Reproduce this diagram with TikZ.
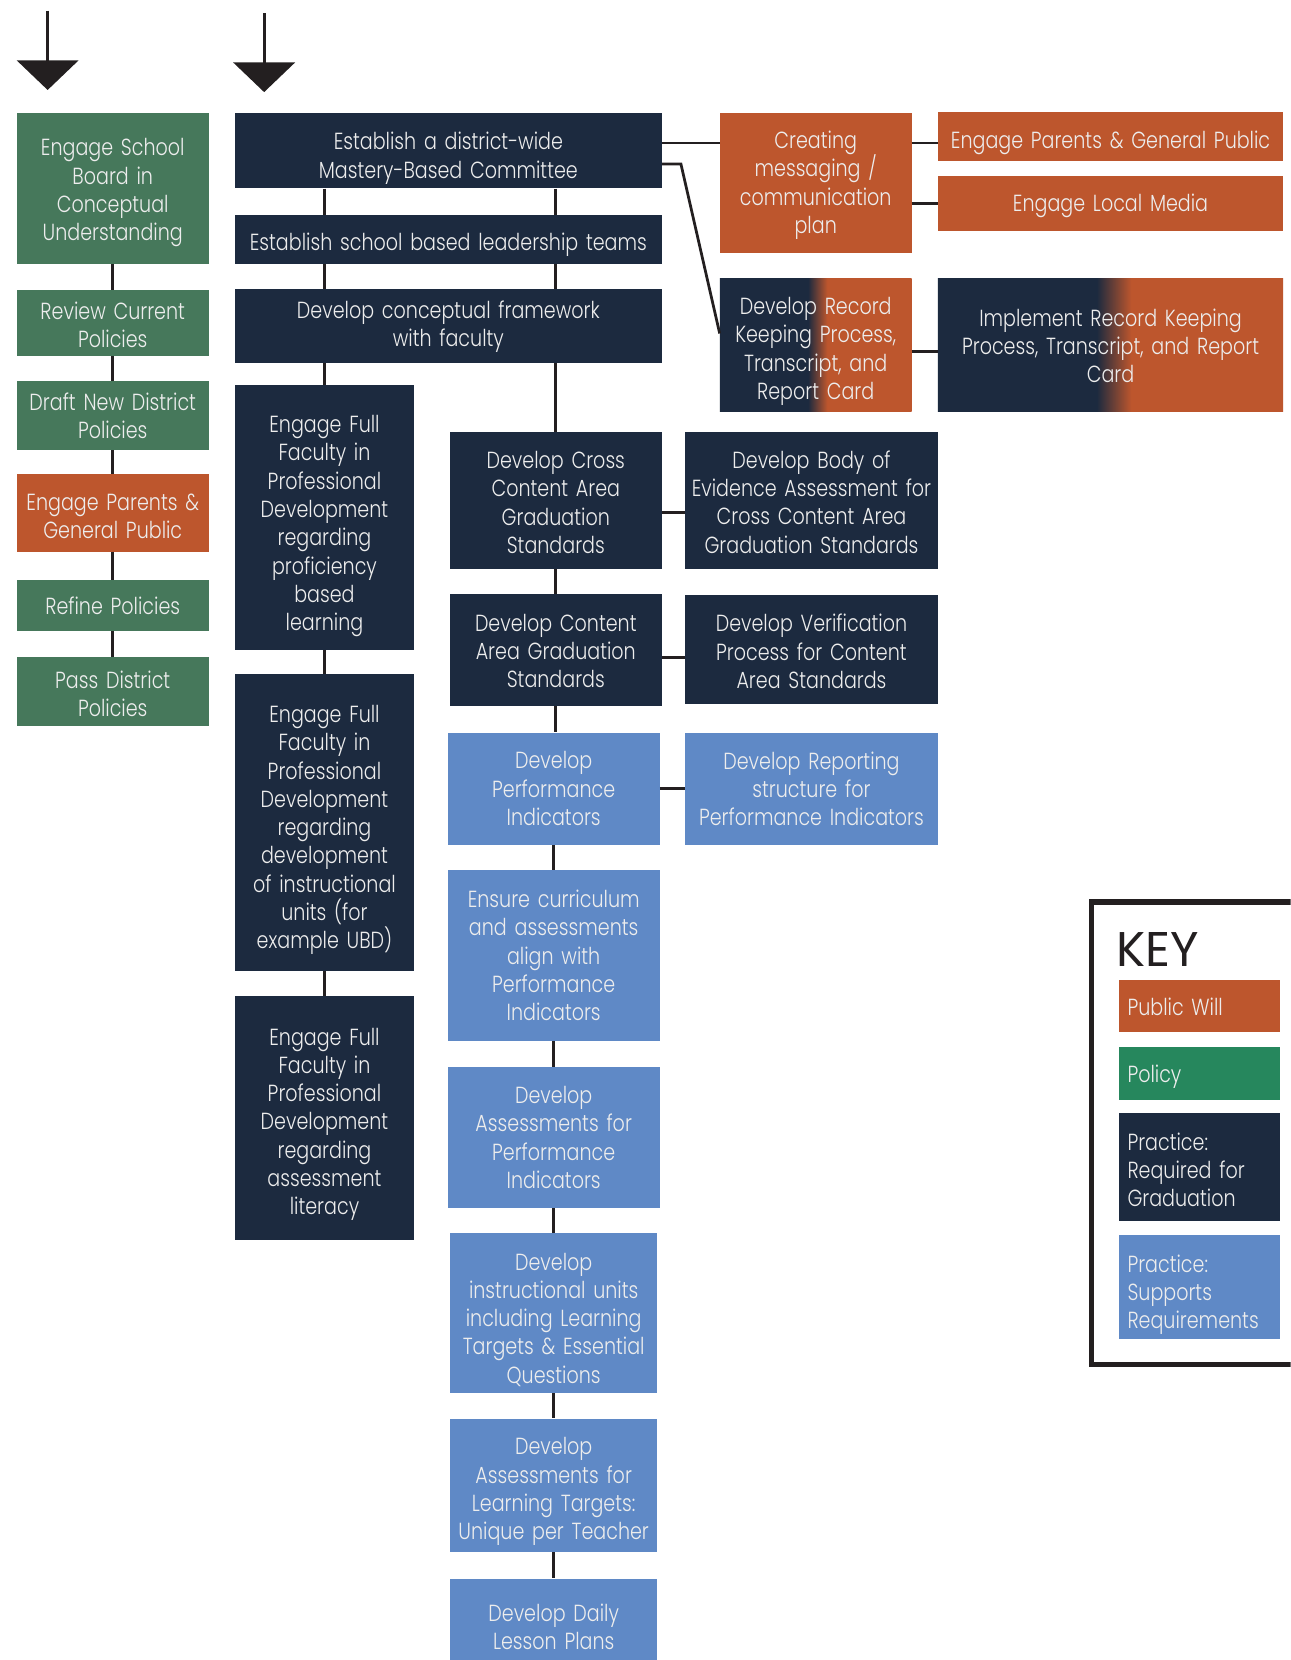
\documentclass[tikz,border=0pt]{standalone}
\usepackage{fontspec}
\setmainfont{Poppins}[UprightFont=* Light, FakeStretch=0.82]
\newfontfamily\keyfont{Poppins}
\usetikzlibrary{arrows.meta,calc}

\definecolor{navy}{HTML}{1C2A3F}
\definecolor{rust}{HTML}{BD562D}
\definecolor{sky}{HTML}{5F89C6}
\definecolor{sage}{HTML}{46785B}
\definecolor{keygreen}{HTML}{26875D}
\definecolor{ink}{HTML}{231F20}
\definecolor{paper}{HTML}{EDEDED}

% navy on the left, rust on the right, with a short blend between
\pgfdeclarehorizontalshading{navyrust}{100bp}{color(0bp)=(navy); color(48bp)=(navy); color(53bp)=(rust); color(100bp)=(rust)}

\begin{document}
\begin{tikzpicture}[x=1pt,y=-1pt,
  box/.style={rectangle, inner sep=0pt, text=paper, align=center,
    font=\fontsize{22}{26.7}\selectfont},
  sz/.style 2 args={minimum width=#1pt, minimum height=#2pt, text width=#1pt},
  % lowers the text block inside its box by #1 pt
  drop/.style={execute at begin node={\rule{0pt}{\dimexpr\fontcharht\font`l+#1pt+#1pt\relax}}},
  policy/.style={box, fill=sage},
  publicwill/.style={box, fill=rust},
  required/.style={box, fill=navy},
  supports/.style={box, fill=sky},
  mixed/.style={box, shading=navyrust},
  keyentry/.style={rectangle, inner xsep=8pt, inner ysep=0pt, text=paper,
    align=left, text width=136pt, font=\fontsize{22}{26.7}\selectfont},
  conn/.style={draw=ink, line width=2.6pt},
  startarrow/.style={draw=ink, line width=2.6pt,
    -{Triangle[length=28pt,width=58pt]}},
]
\clip (0,0) rectangle (1219,1568);
\fill[white] (0,0) rectangle (1219,1568);

% ---- policy track ----
\node (L1) [policy, drop=4, sz={181}{142}] at (106.5,178)   {Engage School\\Board in\\Conceptual\\Understanding};
\node (L2) [policy, drop=2, sz={181}{62}]  at (106.5,305)   {Review Current\\Policies};
\node (L3) [policy, sz={181}{65}]  at (106.5,392.5) {Draft New District\\Policies};
\node (L4) [publicwill, drop=3, sz={181}{73}] at (106.5,484.5) {Engage Parents \&\\General Public};
\node (L5) [policy, sz={181}{48}]  at (106.5,572)   {Refine Policies};
\node (L6) [policy, drop=2, sz={181}{65}]  at (106.5,653.5) {Pass District\\Policies};

% ---- practice track, wide boxes ----
\node (A) [required, drop=7, sz={403}{71}] at (423.5,142.5) {Establish a district-wide\\Mastery-Based Committee};
\node (B) [required, drop=5, sz={403}{46}] at (423.5,226)   {Establish school based leadership teams};
\node (C) [required, drop=1, sz={403}{70}] at (423.5,308)   {Develop conceptual framework\\with faculty};

% ---- professional development column ----
\node (D) [required, drop=8, sz={169}{250}] at (306.5,489)  {Engage Full\\Faculty in\\Professional\\Development\\regarding\\proficiency\\based\\learning};
\node (E) [required, drop=7, sz={169}{280}] at (306.5,777)  {Engage Full\\Faculty in\\Professional\\Development\\regarding\\development\\of instructional\\units (for\\example UBD)};
\node (F) [required, drop=6, sz={169}{230}] at (306.5,1056) {Engage Full\\Faculty in\\Professional\\Development\\regarding\\assessment\\literacy};

% ---- standards column ----
\node (G) [required, drop=2, sz={200}{129}] at (525,472.5) {Develop Cross\\Content Area\\Graduation\\Standards};
\node (H) [required, drop=1, sz={200}{106}] at (525,614)   {Develop Content\\Area Graduation\\Standards};
\node (I) [supports, sz={200}{106}] at (523,745)   {Develop\\Performance\\Indicators};
\node (J) [supports, sz={200}{161}] at (523,902.5) {Ensure curriculum\\and assessments\\align with\\Performance\\Indicators};
\node (K) [supports, sz={200}{133}] at (523,1074.5) {Develop\\Assessments for\\Performance\\Indicators};
\node (Lu) [supports, drop=6, sz={196}{151}] at (523,1240.5) {Develop\\instructional units\\including Learning\\Targets \& Essential\\Questions};
\node (M) [supports, drop=6, sz={196}{126}] at (523,1403)  {Develop\\Assessments for\\Learning Targets:\\Unique per Teacher};
\node (N) [supports, sz={196}{92}]  at (523,1537)  {Develop Daily\\Lesson Plans};

% ---- companion column ----
\node (O) [required, drop=2, sz={239}{129}] at (766.5,472.5) {Develop Body of\\Evidence Assessment for\\Cross Content Area\\Graduation Standards};
\node (P) [required, drop=2, sz={239}{103}] at (766.5,613.5) {Develop Verification\\Process for Content\\Area Standards};
\node (Q) [supports, sz={239}{106}] at (766.5,745)   {Develop Reporting\\structure for\\Performance Indicators};

% ---- communication and record keeping ----
\node (R) [publicwill, drop=2, sz={181}{132}] at (770.5,173) {Creating\\messaging /\\communication\\plan};
\node (S) [publicwill, drop=6, sz={326}{46}]  at (1049,129)  {Engage Parents \& General Public};
\node (T) [publicwill, drop=3, sz={326}{52}]  at (1049,192)  {Engage Local Media};
\node (U) [mixed, drop=6, sz={181}{126}] at (770.5,326) {Develop Record\\Keeping Process,\\Transcript, and\\Report Card};
\node (V) [mixed, drop=1, sz={326}{126}] at (1049,326)  {Implement Record Keeping\\Process, Transcript, and Report\\Card};

% ---- entry arrows ----
\coordinate (in1) at (45,10);
\coordinate (in1tip) at (45,85);
\coordinate (in2) at (249.5,12.5);
\coordinate (in2tip) at (249.5,87);
\draw[startarrow] (in1) -- (in1tip);
\draw[startarrow] (in2) -- (in2tip);

% ---- connectors ----
\draw[conn] (L1.south) -- (L2.north);
\draw[conn] (L2.south) -- (L3.north);
\draw[conn] (L3.south) -- (L4.north);
\draw[conn] (L4.south) -- (L5.north);
\draw[conn] (L5.south) -- (L6.north);

\draw[conn] (A.south -| D.north) -- (B.north -| D.north);
\draw[conn] (A.south -| G.north) -- (B.north -| G.north);
\draw[conn] (B.south -| D.north) -- (C.north -| D.north);
\draw[conn] (B.south -| G.north) -- (C.north -| G.north);
\draw[conn] (C.south -| D.north) -- (D.north);
\draw[conn] (C.south -| G.north) -- (G.north);

\draw[conn] (D.south) -- (E.north);
\draw[conn] (E.south) -- (F.north);

\draw[conn] (G.south) -- (H.north);
\draw[conn] (H.south) -- (H.south |- I.north);
\draw[conn] (I.south) -- (J.north);
\draw[conn] (J.south) -- (K.north);
\draw[conn] (K.south) -- (Lu.north);
\draw[conn] (Lu.south) -- (M.north);
\draw[conn] (M.south) -- (N.north);

\draw[conn] ([yshift=-11.5pt]G.east) -- ([yshift=-11.5pt]G.east -| O.west);
\draw[conn] ([yshift=-7pt]H.east) -- ([yshift=-7pt]H.east -| P.west);
\draw[conn] (I.east) -- (I.east -| Q.west);

\draw[conn] ([yshift=7.5pt]A.east) -- ([yshift=7.5pt]A.east -| R.west);
\draw[conn] ([yshift=-12.5pt]A.east) -- ++(18,0) -- ([yshift=11pt]U.west);
\draw[conn] ([yshift=38pt]R.east) -- ([yshift=38pt]R.east -| S.west);
\draw[conn] ([yshift=-19pt]R.east) -- ([yshift=-19pt]R.east -| T.west);
\draw[conn] ([yshift=-6pt]U.east) -- ([yshift=-6pt]U.east -| V.west);

% ---- key ----
\node (keyframe) [draw=ink, line width=5pt, rectangle, minimum width=230pt, minimum height=437pt] at (1146,1070.5) {};
\node (keytitle) [anchor=base west, inner sep=0pt, text=ink, font=\keyfont\fontsize{46}{46}\selectfont] at (1054,913) {KEY};
\node (k1) [keyentry, drop=1, fill=rust, minimum height=49pt] at (1133,950.5) {Public Will};
\node (k2) [keyentry, drop=3, fill=keygreen, minimum height=50pt] at (1133,1014) {Policy};
\node (k3) [keyentry, drop=3, fill=navy, minimum height=102pt] at (1133,1102) {Practice:\\Required for\\Graduation};
\node (k4) [keyentry, drop=7, fill=sky, minimum height=98pt] at (1133,1216) {Practice:\\Supports\\Requirements};
\end{tikzpicture}
\end{document}
